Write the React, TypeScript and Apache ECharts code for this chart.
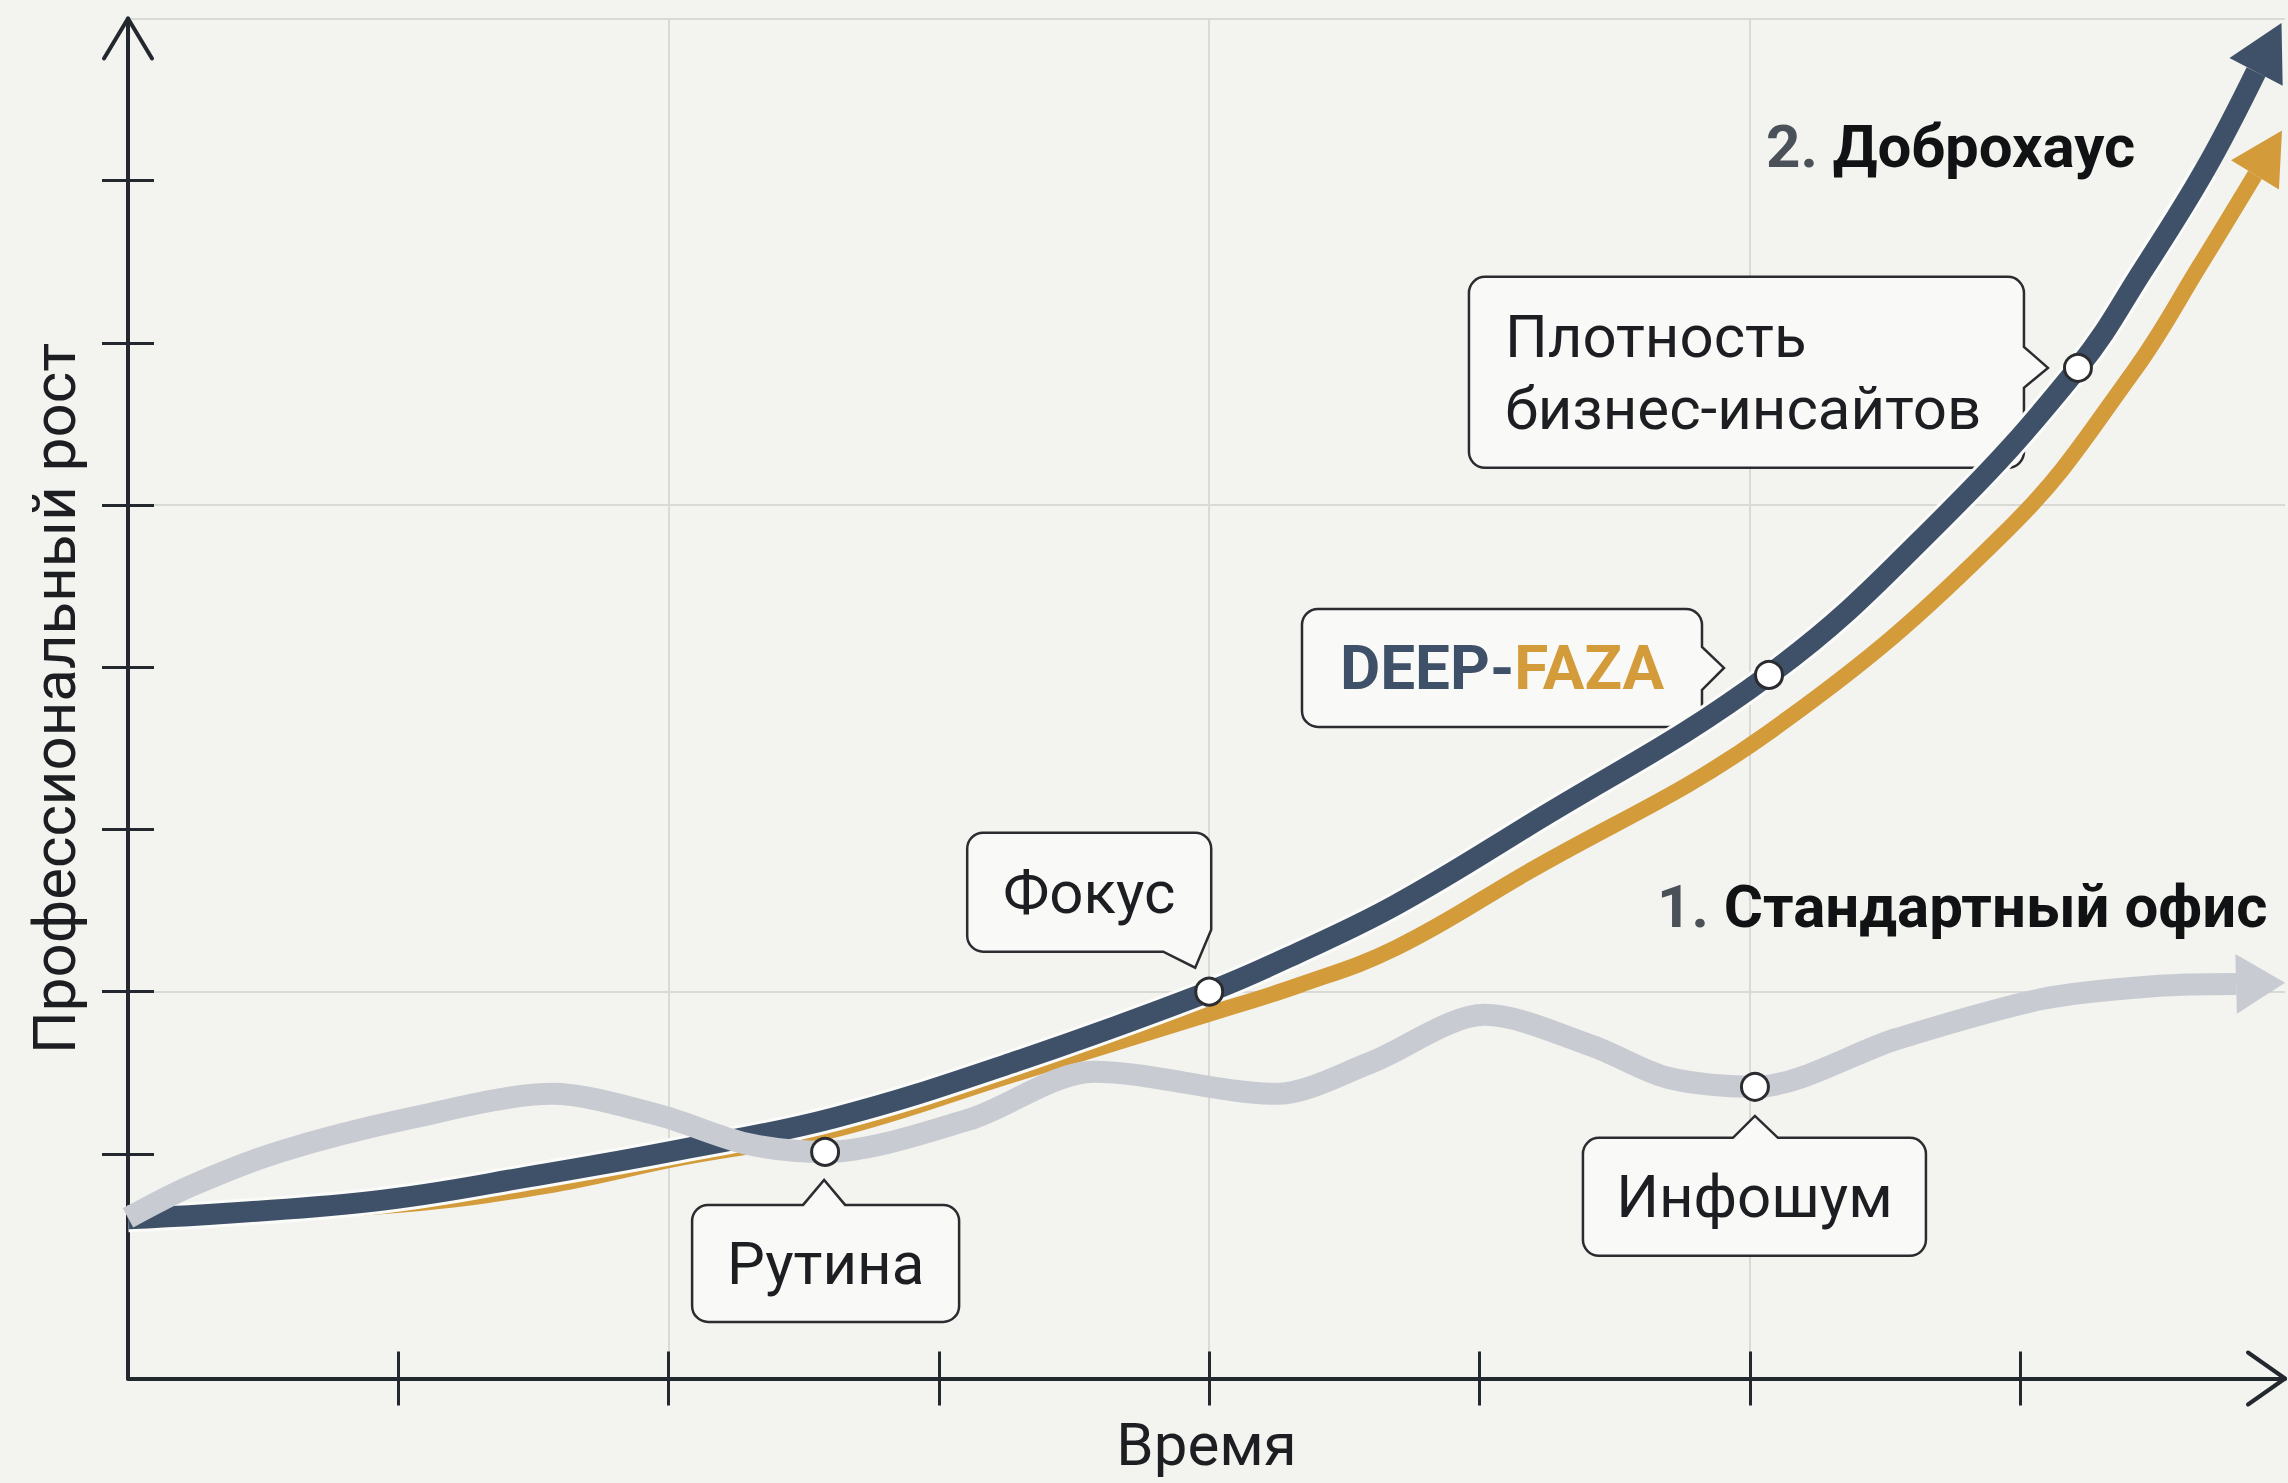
import React, { useEffect, useRef } from "react";
import * as echarts from "echarts";

type Pt = [number, number];

// ---------- axis scaffolding (abstract units) ----------
const X_MIN = 0;
const X_MAX = 7.98;
const Y_MIN = -0.385;
const Y_MAX = 8;
const X_TICKS = [1, 2, 3, 4, 5, 6, 7];
const Y_TICKS = [1, 2, 3, 4, 5, 6, 7];
const X_GRIDLINES = [2, 4, 6];
const Y_GRIDLINES = [2, 5, 8];

// ---------- data ----------
// 2. Доброхаус — navy track
const NAVY_TRACK: Pt[] = [
  [0, 0.6], [0.888, 0.704], [1.546, 0.877], [2.042, 1.025], [2.612, 1.222],
  [3.27, 1.561], [4.0, 2.0], [4.336, 2.245], [4.691, 2.535], [5.161, 3.004],
  [6.071, 3.953], [6.7, 4.896], [7.214, 5.846], [7.455, 6.45], [7.684, 7.067],
  [7.873, 7.671],
];
const NAVY_MARKS = [6, 10, 12];

// 2. Доброхаус — gold track
const GOLD_TRACK: Pt[] = [
  [0, 0.593], [1.006, 0.686], [1.546, 0.803], [2.042, 0.975], [2.612, 1.148],
  [3.27, 1.487], [3.999, 1.863], [4.336, 2.042], [4.691, 2.27], [5.161, 2.72],
  [6.071, 3.6], [6.955, 4.85], [7.418, 5.82], [7.666, 6.48], [7.869, 7.036],
];

// 1. Стандартный офис — gray track
const OFFICE_TRACK: Pt[] = [
  [0, 0.605], [0.226, 0.797], [0.559, 1.012], [1.051, 1.222], [1.569, 1.37],
  [1.961, 1.24], [2.29, 1.062], [2.579, 1.012], [3.108, 1.21], [3.574, 1.506],
  [4.25, 1.37], [4.595, 1.561], [5.02, 1.857], [5.416, 1.666],
  [5.697, 1.469], [6.019, 1.413], [6.545, 1.709], [7.085, 1.956], [7.514, 2.036],
  [7.799, 2.048],
];
const OFFICE_MARKS = [7, 15];

const CALLOUTS = [
  { key: "rutina", track: "office", index: 7, text: "Рутина" },
  { key: "fokus", track: "navy", index: 6, text: "Фокус" },
  { key: "deep", track: "navy", index: 10, text: "DEEP-FAZA" },
  { key: "plot", track: "navy", index: 12, text: "Плотность\nбизнес-инсайтов" },
  { key: "info", track: "office", index: 15, text: "Инфошум" },
];

const AXIS_NAMES = { x: "Время", y: "Профессиональный рост" };
const SERIES_LABELS = {
  office: { num: "1.", name: "Стандартный офис" },
  dobro: { num: "2.", name: "Доброхаус" },
};

// ---------- styling / layout ----------
const FONT = 'Roboto, "Noto Sans", "DejaVu Sans", sans-serif';
const BG = "#f3f3ef";
const INK = "#1c1e22";
const AXIS = "#23272e";
const NAVY = "#3f5169";
const GOLD = "#d39b3a";
const GRAY = "#c8ccd2";
const GRID = "#d9d9d5";
const BOX_FILL = "#f9f9f7";
const BOX_STROKE = "#2a2c30";
const NUM_INK = "#4b5159";

type Pointer = { side: "top" | "right" | "corner"; a: number; b: number; tx: number; ty: number };
const CALLOUT_LAYOUT: Record<string, { dx: number; dy: number; w: number; h: number; pointer: Pointer; left?: number }> = {
  rutina: { dx: -133, dy: 53, w: 267, h: 117, pointer: { side: "top", a: 111, b: 153, tx: 132, ty: -25 } },
  fokus: { dx: -242, dy: -159, w: 244, h: 119, pointer: { side: "corner", a: 97, b: 196, tx: 228, ty: 135 } },
  deep: { dx: -467, dy: -66, w: 400, h: 118, pointer: { side: "right", a: 38, b: 81, tx: 422, ty: 59 } },
  plot: { dx: -609, dy: -91, w: 555, h: 191, pointer: { side: "right", a: 70, b: 111, tx: 579, ty: 91 }, left: 36 },
  info: { dx: -172, dy: 51, w: 343, h: 118, pointer: { side: "top", a: 150, b: 195, tx: 172, ty: -22 } },
};

function calloutPath(w: number, h: number, r: number, p: Pointer): string {
  const d: string[] = [`M ${r} 0`];
  if (p.side === "top") d.push(`L ${p.a} 0 L ${p.tx} ${p.ty} L ${p.b} 0`);
  d.push(`L ${w - r} 0 A ${r} ${r} 0 0 1 ${w} ${r}`);
  if (p.side === "right") d.push(`L ${w} ${p.a} L ${p.tx} ${p.ty} L ${w} ${p.b}`);
  if (p.side === "corner") {
    d.push(`L ${w} ${p.a} L ${p.tx} ${p.ty} L ${p.b} ${h}`);
  } else {
    d.push(`L ${w} ${h - r} A ${r} ${r} 0 0 1 ${w - r} ${h}`);
  }
  d.push(`L ${r} ${h} A ${r} ${r} 0 0 1 0 ${h - r} L 0 ${r} A ${r} ${r} 0 0 1 ${r} 0 Z`);
  return d.join(" ");
}

function markItem(p: Pt) {
  return {
    value: p,
    symbol: "circle",
    symbolSize: 27,
    itemStyle: { color: "#ffffff", borderColor: BOX_STROKE, borderWidth: 3 },
  };
}

function trackData(track: Pt[], marks: number[], arrow: any) {
  return track.map((p, i) => {
    if (arrow && i === track.length - 1) return { value: p, ...arrow };
    if (marks.includes(i)) return markItem(p);
    return { value: p };
  });
}

function buildSeries(arrows: { navy?: any; gold?: any; office?: any }) {
  const common = {
    type: "line",
    xAxisIndex: 0,
    yAxisIndex: 0,
    smooth: 0.4,
    symbol: "none",
    showSymbol: true,
    clip: false,
    silent: true,
    emphasis: { disabled: true },
  };
  return [
    {
      ...common,
      name: "Доброхаус (gold)",
      z: 3,
      data: trackData(GOLD_TRACK, [], arrows.gold),
      lineStyle: { color: GOLD, width: 16, cap: "butt" },
    },
    {
      ...common,
      name: "halo",
      z: 4,
      data: NAVY_TRACK.slice(0, NAVY_TRACK.length - 1).map((p) => ({ value: p })),
      lineStyle: { color: "#fbfbf9", width: 27 },
    },
    {
      ...common,
      name: "Доброхаус",
      z: 5,
      data: trackData(NAVY_TRACK, NAVY_MARKS, arrows.navy),
      lineStyle: { color: NAVY, width: 21, cap: "butt" },
    },
    {
      ...common,
      name: "Стандартный офис",
      z: 6,
      smooth: 0.3,
      data: trackData(OFFICE_TRACK, OFFICE_MARKS, arrows.office),
      lineStyle: { color: GRAY, width: 22, cap: "butt" },
      markLine: {
        silent: true,
        z: 0,
        symbol: ["none", "none"],
        label: { show: false },
        emphasis: { disabled: true },
        lineStyle: { color: GRID, width: 2, type: "solid" },
        data: [
          ...X_GRIDLINES.map((v) => ({ xAxis: v })),
          ...Y_GRIDLINES.map((v) => ({ yAxis: v })),
        ],
      },
    },
  ];
}

function baseOption(): any {
  const tickStyle = { color: AXIS, width: 3 };
  const xCommon = { type: "value", min: X_MIN, max: X_MAX, position: "bottom", axisLabel: { show: false }, splitLine: { show: false } };
  const yCommon = { type: "value", min: Y_MIN, max: Y_MAX, position: "left", axisLabel: { show: false }, splitLine: { show: false } };
  return {
    animation: false,
    backgroundColor: BG,
    grid: { left: 128, top: 18.5, right: 3, bottom: 104.5, containLabel: false, outerBoundsMode: "none" },
    xAxis: [
      {
        ...xCommon,
        name: AXIS_NAMES.x,
        nameLocation: "middle",
        nameGap: 36,
        nameTextStyle: { fontSize: 60, fontFamily: FONT, color: INK },
        axisLine: { show: true, onZero: false, lineStyle: { color: AXIS, width: 4 } },
        axisTick: { show: true, inside: false, length: 27, customValues: X_TICKS, lineStyle: tickStyle },
      },
      {
        ...xCommon,
        axisLine: { show: false, onZero: false },
        axisTick: { show: true, inside: true, length: 27, customValues: X_TICKS, lineStyle: tickStyle },
      },
    ],
    yAxis: [
      {
        ...yCommon,
        name: AXIS_NAMES.y,
        nameLocation: "middle",
        nameGap: 44,
        nameRotate: 90,
        nameTextStyle: { fontSize: 60, fontFamily: FONT, color: INK },
        axisLine: { show: true, onZero: false, lineStyle: { color: AXIS, width: 4 } },
        axisTick: { show: true, inside: false, length: 26, customValues: Y_TICKS, lineStyle: tickStyle },
      },
      {
        ...yCommon,
        axisLine: { show: false, onZero: false },
        axisTick: { show: true, inside: true, length: 26, customValues: Y_TICKS, lineStyle: tickStyle },
      },
    ],
    series: buildSeries({}),
  };
}

export default function App() {
  const ref = useRef<HTMLDivElement>(null);

  useEffect(() => {
    if (!ref.current) return;
    const chart = echarts.init(ref.current, null, { renderer: "svg" });
    chart.setOption(baseOption());

    const px = (p: Pt) => chart.convertToPixel({ xAxisIndex: 0, yAxisIndex: 0 }, p) as number[];

    const arrowFor = (track: Pt[], color: string, w: number, len: number) => {
      const n = track.length;
      const a = px(track[n - 2]);
      const b = px(track[n - 1]);
      const dx = b[0] - a[0];
      const dy = b[1] - a[1];
      const d = Math.hypot(dx, dy) || 1;
      const ux = dx / d;
      const uy = dy / d;
      const theta = (Math.atan2(-uy, ux) * 180) / Math.PI;
      return {
        symbol: "triangle",
        symbolSize: [w, len],
        symbolRotate: theta - 90,
        symbolOffset: [(ux * len) / 2, (uy * len) / 2],
        itemStyle: { color, borderWidth: 0 },
      };
    };

    const arrows = {
      navy: arrowFor(NAVY_TRACK, NAVY, 60, 55),
      gold: arrowFor(GOLD_TRACK, GOLD, 56, 52),
      office: arrowFor(OFFICE_TRACK, GRAY, 60, 49),
    };

    const graphics: any[] = [];
    const textBase = { fontFamily: FONT, fontSize: 60, fill: INK };

    CALLOUTS.forEach((c) => {
      const L = CALLOUT_LAYOUT[c.key];
      const track = c.track === "navy" ? NAVY_TRACK : OFFICE_TRACK;
      const m = px(track[c.index]);
      const x0 = m[0] + L.dx;
      const y0 = m[1] + L.dy;
      const shapeName = "callout_" + c.key;
      echarts.graphic.registerShape(shapeName, echarts.graphic.extendPath(calloutPath(L.w, L.h, 16, L.pointer), {}) as any);
      graphics.push({
        type: shapeName,
        x: x0,
        y: y0,
        z: 1,
        silent: true,
        style: { fill: BOX_FILL, stroke: BOX_STROKE, lineWidth: 2.5 },
      });
      if (c.key === "deep") {
        const parts = c.text.split("-");
        graphics.push({
          type: "text",
          x: x0 + L.w / 2,
          y: y0 + L.h / 2,
          z: 2,
          silent: true,
          style: {
            ...textBase,
            fontSize: 62,
            fontWeight: "bold",
            text: `{d|${parts[0]}-}{f|${parts[1]}}`,
            align: "center",
            verticalAlign: "middle",
            rich: {
              d: { fill: NAVY, fontSize: 62, fontWeight: "bold", fontFamily: FONT },
              f: { fill: GOLD, fontSize: 62, fontWeight: "bold", fontFamily: FONT },
            },
          },
        });
      } else if (L.left !== undefined) {
        graphics.push({
          type: "text",
          x: x0 + L.left,
          y: y0 + L.h / 2,
          z: 2,
          silent: true,
          style: { ...textBase, text: c.text, lineHeight: 72, align: "left", verticalAlign: "middle" },
        });
      } else {
        graphics.push({
          type: "text",
          x: x0 + L.w / 2,
          y: y0 + L.h / 2,
          z: 2,
          silent: true,
          style: { ...textBase, text: c.text, align: "center", verticalAlign: "middle" },
        });
      }
    });

    const labelRich = {
      n: { fill: NUM_INK, fontSize: 60, fontWeight: "bold", fontFamily: FONT },
      b: { fill: "#111214", fontSize: 60, fontWeight: "bold", fontFamily: FONT },
    };
    graphics.push({
      type: "text",
      x: 1766,
      y: 146,
      z: 2,
      silent: true,
      style: {
        ...textBase,
        fontWeight: "bold",
        text: `{n|${SERIES_LABELS.dobro.num}} {b|${SERIES_LABELS.dobro.name}}`,
        rich: labelRich,
        align: "left",
        verticalAlign: "middle",
      },
    });
    graphics.push({
      type: "text",
      x: 1657,
      y: 906,
      z: 2,
      silent: true,
      style: {
        ...textBase,
        fontWeight: "bold",
        text: `{n|${SERIES_LABELS.office.num}} {b|${SERIES_LABELS.office.name}}`,
        rich: labelRich,
        align: "left",
        verticalAlign: "middle",
      },
    });

    // axis arrow heads (open chevrons)
    const top = px([X_MIN, Y_MAX]);
    const right = px([X_MAX, Y_MIN]);
    const chevron = { stroke: AXIS, lineWidth: 4, lineCap: "round", lineJoin: "round", fill: null };
    graphics.push({
      type: "polyline",
      z: 8,
      silent: true,
      shape: { points: [[top[0] - 24, top[1] + 40], [top[0], top[1]], [top[0] + 24, top[1] + 40]] },
      style: chevron,
    });
    graphics.push({
      type: "polyline",
      z: 8,
      silent: true,
      shape: { points: [[right[0] - 37, right[1] - 26], [right[0], right[1]], [right[0] - 37, right[1] + 26]] },
      style: chevron,
    });

    chart.setOption({ series: buildSeries(arrows), graphic: graphics });

    return () => chart.dispose();
  }, []);

  return (
    <div
      ref={ref}
      style={{ position: "absolute", left: 0, top: 0, width: 2288, height: 1483 }}
    />
  );
}
